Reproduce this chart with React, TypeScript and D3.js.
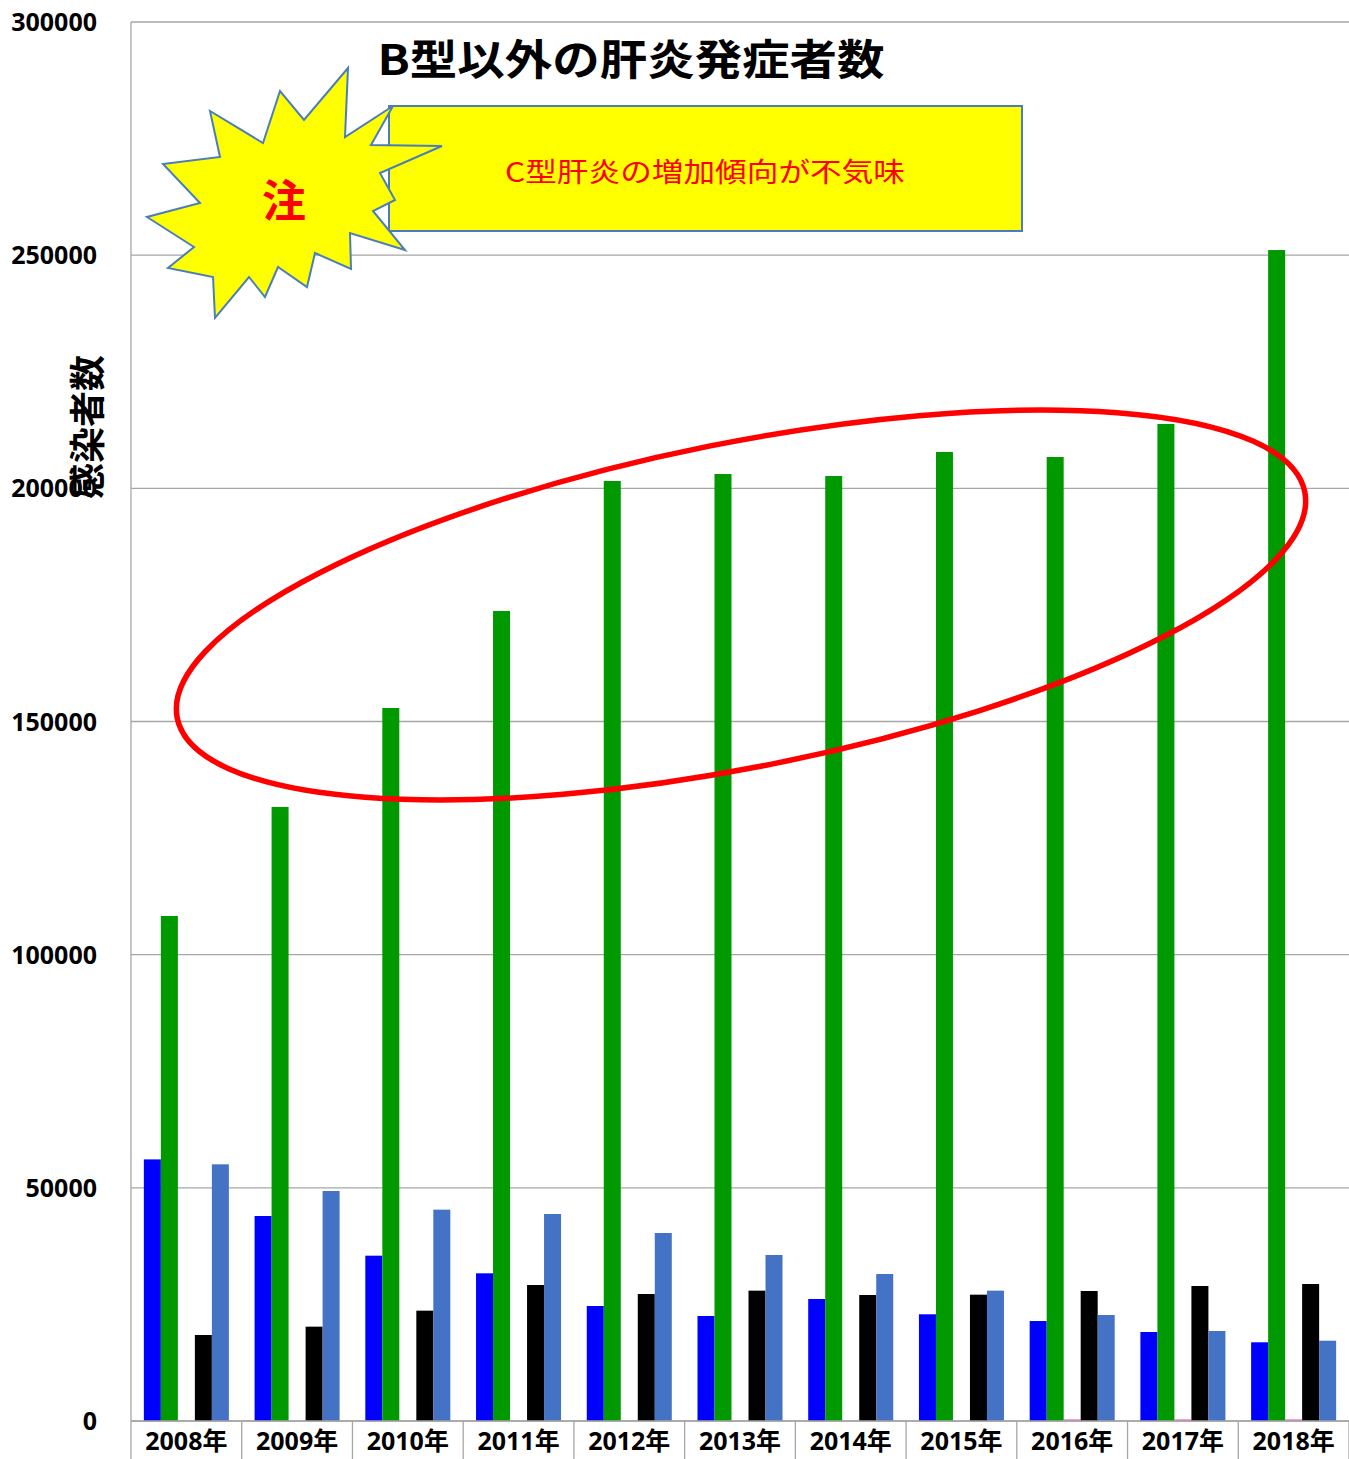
import * as d3 from "d3";

// 年ごとの発症者数
const years = ["2008年", "2009年", "2010年", "2011年", "2012年", "2013年", "2014年", "2015年", "2016年", "2017年", "2018年"];
const seriesKeys = ["blue", "green", "pink", "black", "steel"];
const blueValues = [56100, 43960, 35450, 31670, 24660, 22520, 26160, 22880, 21440, 19090, 16880];
const greenValues = [108300, 131670, 152900, 173700, 201570, 203070, 202640, 207790, 206720, 213800, 251100];
const pinkValues = [0, 0, 0, 0, 0, 0, 0, 0, 350, 350, 350];
const blackValues = [18440, 20230, 23660, 29160, 27230, 27950, 27020, 27090, 27880, 28950, 29380];
const steelValues = [55040, 49320, 45320, 44390, 40310, 35600, 31520, 27950, 22730, 19300, 17220];
const yTicks = [0, 50000, 100000, 150000, 200000, 250000, 300000];

const colors: Record<string, string> = {
  blue: "#0000ff",
  green: "#009900",
  pink: "#ff66cc",
  black: "#000000",
  steel: "#4472c4",
};

const values: Record<string, number[]> = {
  blue: blueValues,
  green: greenValues,
  pink: pinkValues,
  black: blackValues,
  steel: steelValues,
};

// 注マークの星形
const starPoints: [number, number][] = [
  [348, 68], [345, 137], [393, 106], [371, 145], [442, 146], [380, 173], [395, 200], [373, 211],
  [405, 250], [350, 233], [351, 269], [315, 253], [307, 287], [278, 267], [265, 297], [249, 277],
  [215, 318], [213, 277], [168, 268], [194, 247], [147, 217], [200, 203], [163, 164], [220, 157],
  [210, 111], [263, 143], [280, 91], [304, 120],
];

const App = () => {
  const width = 1349;
  const height = 1459;
  const margin = { top: 22, right: 0, bottom: 38, left: 131 };
  const innerWidth = width - margin.left - margin.right;
  const innerHeight = height - margin.top - margin.bottom;

  const x0 = d3.scaleBand().domain(years).range([0, innerWidth]).padding(0);
  const x1 = d3.scaleBand().domain(seriesKeys).range([0, x0.bandwidth()]).paddingInner(0).paddingOuter(0.756);
  const y = d3.scaleLinear().domain([0, 300000]).range([innerHeight, 0]);

  const numFont = "'Open Sans', 'Noto Sans CJK JP', sans-serif";
  const jpFont = "'Noto Sans CJK JP', sans-serif";

  return (
    <svg width={width} height={height} style={{ position: "absolute", left: 0, top: 0, background: "#fff" }}>
      <g transform={`translate(${margin.left}, ${margin.top})`}>
        {yTicks.map((t) => (
          <g key={t}>
            <line x1={0} x2={innerWidth} y1={y(t)} y2={y(t)} stroke="#a6a6a6" strokeWidth={1.3} />
            <text
              x={-34}
              y={y(t)}
              dy="0.36em"
              textAnchor="end"
              fontFamily={numFont}
              fontWeight={700}
              fontSize={25}
            >
              {t}
            </text>
          </g>
        ))}
        <line x1={0} x2={0} y1={0} y2={innerHeight + margin.bottom} stroke="#a6a6a6" strokeWidth={1.3} />
        {years.map((yr, i) => (
          <g key={yr} transform={`translate(${x0(yr)},0)`}>
            {seriesKeys.map((k) => {
              const v = values[k][i];
              if (!v) return null;
              return (
                <rect
                  key={k}
                  x={x1(k)}
                  y={y(v)}
                  width={x1.bandwidth()}
                  height={y(0) - y(v)}
                  fill={colors[k]}
                />
              );
            })}
            <line
              x1={x0.bandwidth()}
              x2={x0.bandwidth()}
              y1={innerHeight}
              y2={innerHeight + margin.bottom}
              stroke="#a6a6a6"
              strokeWidth={1.3}
            />
            <text
              x={x0.bandwidth() / 2}
              y={innerHeight + 19}
              dominantBaseline="central"
              textAnchor="middle"
              fontFamily={numFont}
              fontWeight={700}
              fontSize={25}
            >
              {yr}
            </text>
          </g>
        ))}
        <line x1={0} x2={innerWidth} y1={innerHeight} y2={innerHeight} stroke="#a6a6a6" strokeWidth={1.3} />
      </g>

      {/* 軸タイトル */}
      <text
        transform="translate(85,427) rotate(-90)"
        textAnchor="middle"
        dominantBaseline="central"
        fontFamily={jpFont}
        fontWeight={700}
        fontSize={36}
      >
        感染者数
      </text>

      {/* タイトル */}
      <text
        x={631}
        y={56}
        textAnchor="middle"
        dominantBaseline="central"
        fontFamily={jpFont}
        fontWeight={700}
        fontSize={42}
        textLength={507}
        lengthAdjust="spacingAndGlyphs"
      >
        B型以外の肝炎発症者数
      </text>

      {/* 注釈 */}
      <rect x={389} y={106} width={633} height={125} fill="#ffff00" stroke="#4a7ebb" strokeWidth={2} />
      <text
        x={705}
        y={170}
        textAnchor="middle"
        dominantBaseline="central"
        fontFamily={jpFont}
        fontSize={27}
        fill="#ff0000"
        textLength={400}
        lengthAdjust="spacingAndGlyphs"
      >
        C型肝炎の増加傾向が不気味
      </text>
      <polygon
        points={starPoints.map((p) => p.join(",")).join(" ")}
        fill="#ffff00"
        stroke="#4a7ebb"
        strokeWidth={2}
      />
      <text
        x={284}
        y={198}
        textAnchor="middle"
        dominantBaseline="central"
        fontFamily={jpFont}
        fontWeight={700}
        fontSize={44}
        fill="#ff0000"
      >
        注
      </text>

      <ellipse
        cx={741}
        cy={605}
        rx={575}
        ry={162}
        transform="rotate(-11.35 741 605)"
        fill="none"
        stroke="#ff0000"
        strokeWidth={5.5}
      />
    </svg>
  );
};

export default App;
